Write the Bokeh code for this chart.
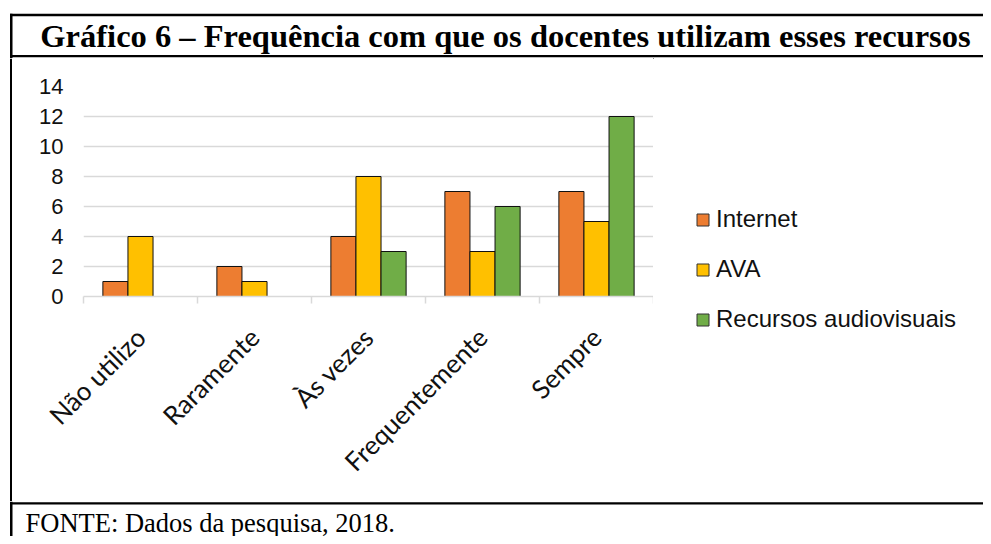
import math
from bokeh.plotting import figure
from bokeh.layouts import column, row
from bokeh.models import (ColumnDataSource, Range1d, FixedTicker, Legend, LegendItem,
                          BoxAnnotation, Label)
from bokeh.transform import dodge
from bokeh.embed import file_html
from bokeh.resources import INLINE

# ---- data ----
categories = ["Não utilizo", "Raramente", "Às vezes", "Frequentemente", "Sempre"]
internet = [1, 2, 4, 7, 7]
ava = [4, 1, 8, 3, 5]
audiovisuais = [0, 0, 3, 6, 12]
series_names = ["Internet", "AVA", "Recursos audiovisuais"]
series_colors = ["#ED7D31", "#FFC000", "#70AD47"]
y_ticks = [0, 2, 4, 6, 8, 10, 12, 14]
title_text = "Gráfico 6 – Frequência com que os docentes utilizam esses recursos"
source_text = "FONTE: Dados da pesquisa, 2018."

# ---- layout constants (pixels) ----
W, H = 983, 536
TOP_H = 58          # title band
FOOT_Y = 501        # footer band starts
MID_H = FOOT_Y - TOP_H
FOOT_H = H - FOOT_Y
STRIP_W = 12
LINE_L, LINE_R = 9.5, 12.0
LW = 2.4
INK = "#000000"
EDGE = "#111111"


def blank(width, height):
    f = figure(width=width, height=height, output_backend="svg", toolbar_location=None,
               x_range=Range1d(0, width), y_range=Range1d(height, 0),
               x_axis_type=None, y_axis_type=None,
               min_border=0, min_border_left=0, min_border_right=0,
               min_border_top=0, min_border_bottom=0)
    f.frame_align = False
    f.outline_line_color = None
    f.grid.visible = False
    f.border_fill_color = "white"
    f.background_fill_color = "white"
    return f


def rule(f, left, right, top, bottom):
    f.add_layout(BoxAnnotation(left=left, right=right, top=top, bottom=bottom,
                               fill_color=INK, fill_alpha=1, line_color=None))


# ---- title band ----
ft = blank(W, TOP_H)
rule(ft, LINE_L, W, 13.3, 13.3 + LW)
rule(ft, LINE_L, W, TOP_H - 1.2 - LW, TOP_H - 1.2)
rule(ft, LINE_L, LINE_R, 13.3, TOP_H)
ft.add_layout(Label(x=505, y=35, text=title_text, text_font="Liberation Serif",
                    text_font_style="bold", text_font_size="32.5px",
                    text_align="center", text_baseline="alphabetic", text_color=INK))

# ---- left strip of the chart band ----
fs = blank(STRIP_W, MID_H)
rule(fs, LINE_L, LINE_R, 0, MID_H)

# ---- chart ----
CHART_R = 653
CW = CHART_R - STRIP_W
FL = 83 - STRIP_W
FT, FB = 86 - TOP_H, 296 - TOP_H

centers = [i + 0.5 for i in range(len(categories))]
src = ColumnDataSource(dict(x=centers, internet=internet, ava=ava, audiovisuais=audiovisuais))

p = figure(width=CW, height=MID_H, output_backend="svg", toolbar_location=None,
           x_range=Range1d(0, len(categories)), y_range=Range1d(0, 14),
           min_border_left=FL, min_border_right=0,
           min_border_top=FT, min_border_bottom=MID_H - FB)
p.frame_align = False
p.outline_line_color = None
p.background_fill_color = "white"
p.border_fill_color = "white"

bw = 0.22
keys = ["internet", "ava", "audiovisuais"]
offsets = [-bw, 0, bw]
for k, off, c in zip(keys, offsets, series_colors):
    p.vbar(x=dodge("x", off, range=p.x_range), top=k, width=bw, source=src,
           fill_color=c, line_color=EDGE, line_width=1)

p.xgrid.grid_line_color = None
p.ygrid.grid_line_color = "#d9d9d9"
p.ygrid.grid_line_width = 1.5

yax = p.yaxis[0]
yax.ticker = FixedTicker(ticks=y_ticks)
yax.axis_line_color = None
yax.major_tick_line_color = None
yax.minor_tick_line_color = None
yax.major_tick_out = 0
yax.major_tick_in = 0
yax.major_label_standoff = 20
yax.major_label_text_font = "Liberation Sans"
yax.major_label_text_font_size = "22px"
yax.major_label_text_color = EDGE

xax = p.xaxis[0]
xax.ticker = FixedTicker(ticks=centers, minor_ticks=list(range(len(categories) + 1)))
xax.major_label_overrides = {c: name for c, name in zip(centers, categories)}
xax.axis_line_color = "#d9d9d9"
xax.axis_line_width = 1.5
xax.major_tick_line_color = None
xax.major_tick_out = 0
xax.major_tick_in = 0
xax.minor_tick_line_color = "#d9d9d9"
xax.minor_tick_line_width = 1.5
xax.minor_tick_out = 7
xax.minor_tick_in = 0
xax.major_label_orientation = math.pi / 4
xax.major_label_standoff = 29
xax.major_label_text_font = "Lato"
xax.major_label_text_font_size = "26px"
xax.major_label_text_color = EDGE

# ---- legend panel (proxy glyphs, parked outside the visible area, carry the series styles) ----
LEG_W = W - CHART_R
lf = blank(LEG_W, MID_H)
proxies = [lf.vbar(x=[-50], top=[0], width=1, fill_color=c, line_color="#333333", line_width=1)
           for c in series_colors]
legend = Legend(items=[LegendItem(label=n, renderers=[r]) for n, r in zip(series_names, proxies)],
                location=(42, FOOT_Y - 333))
legend.label_text_font = "Liberation Sans"
legend.label_text_font_size = "24px"
legend.label_text_color = EDGE
legend.glyph_width = 15
legend.glyph_height = 15
legend.label_standoff = 6
legend.spacing = 22
legend.padding = 0
legend.margin = 0
legend.border_line_color = None
legend.background_fill_alpha = 0
lf.add_layout(legend, "center")

# ---- footer band ----
ff = blank(W, FOOT_H)
rule(ff, LINE_L, W, 0.7, 0.7 + LW)
rule(ff, LINE_L, LINE_R, 0, FOOT_H)
ff.add_layout(Label(x=25, y=522 - FOOT_Y, text=source_text, text_font="Liberation Serif",
                    text_font_size="26.5px", text_align="left", text_baseline="alphabetic",
                    text_color=INK))

layout = column(ft, row(fs, p, lf, spacing=0), ff, spacing=0)
open("out.html", "w").write(file_html(layout, INLINE))
